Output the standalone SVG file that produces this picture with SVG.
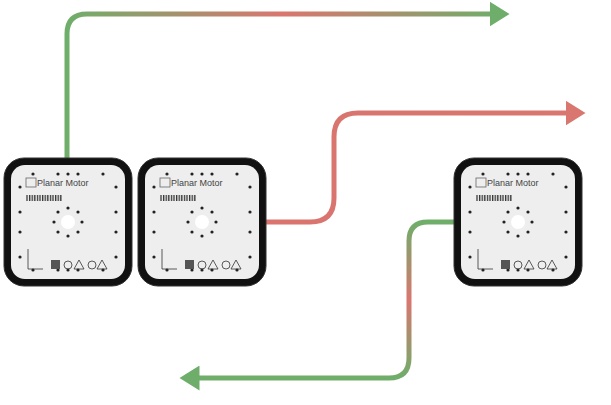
<svg xmlns="http://www.w3.org/2000/svg" width="611" height="405" viewBox="0 0 611 405">
<style>
.outer{fill:#111;stroke:#333;stroke-width:1}
.inner{fill:#eeeeee}
.dot{fill:#222}
.lbl{font-family:"Liberation Sans",Arial,sans-serif;font-size:9px;fill:#444}
.conn{fill:none;stroke-width:5;stroke-linecap:butt;stroke-linejoin:round}
.ico{fill:none;stroke:#333;stroke-width:0.8}
</style>
<defs>
<linearGradient id="g1" gradientUnits="userSpaceOnUse" x1="67" y1="0" x2="500" y2="0">
<stop offset="0" stop-color="#6fae6a"/><stop offset="0.5" stop-color="#d9766f"/><stop offset="1" stop-color="#6fae6a"/></linearGradient>
<linearGradient id="g2" gradientUnits="userSpaceOnUse" x1="266" y1="0" x2="585" y2="0">
<stop offset="0" stop-color="#d9746f"/><stop offset="1" stop-color="#d9766f"/></linearGradient>
<linearGradient id="g3" gradientUnits="userSpaceOnUse" x1="0" y1="222" x2="0" y2="378">
<stop offset="0" stop-color="#6fae6a"/><stop offset="0.5" stop-color="#d9766f"/><stop offset="1" stop-color="#6fae6a"/></linearGradient>
<pattern id="bar" width="2.6" height="8" patternUnits="userSpaceOnUse"><rect width="1.3" height="8" fill="#333"/></pattern>
<symbol id="mod" viewBox="0 0 130 130" width="130" height="130">
<rect class="outer" x="1" y="1" width="128" height="128" rx="20"/>
<rect class="inner" x="8" y="8" width="114" height="114" rx="14"/>
<g class="dot">
<circle cx="30" cy="17" r="1.6"/><circle cx="55" cy="17" r="1.6"/><circle cx="65" cy="17" r="1.6"/><circle cx="75" cy="17" r="1.6"/><circle cx="100" cy="17" r="1.6"/>
<circle cx="30" cy="113" r="1.6"/><circle cx="55" cy="113" r="1.6"/><circle cx="65" cy="113" r="1.6"/><circle cx="75" cy="113" r="1.6"/><circle cx="100" cy="113" r="1.6"/>
<circle cx="17" cy="30" r="1.6"/><circle cx="17" cy="55" r="1.6"/><circle cx="17" cy="75" r="1.6"/><circle cx="17" cy="100" r="1.6"/>
<circle cx="113" cy="30" r="1.6"/><circle cx="113" cy="55" r="1.6"/><circle cx="113" cy="75" r="1.6"/><circle cx="113" cy="100" r="1.6"/>
<circle cx="65" cy="51" r="1.6"/><circle cx="65" cy="79" r="1.6"/><circle cx="51" cy="65" r="1.6"/><circle cx="79" cy="65" r="1.6"/>
<circle cx="55" cy="55" r="1.6"/><circle cx="75" cy="55" r="1.6"/><circle cx="55" cy="75" r="1.6"/><circle cx="75" cy="75" r="1.6"/>
</g>
<circle cx="65" cy="65" r="7" fill="#fff"/>
<rect x="23" y="21" width="10" height="9" fill="none" stroke="#666" stroke-width="0.8"/>
<text class="lbl" x="34" y="29">Planar Motor</text>
<rect x="23" y="38" width="36" height="6" fill="url(#bar)"/>
<path class="ico" d="M25 92 V112 H40"/>
<rect x="48" y="103" width="9" height="9" fill="#555"/>
<circle class="ico" cx="65" cy="108" r="4"/><path class="ico" d="M71 112 L76 103 L81 112Z"/><circle class="ico" cx="89" cy="108" r="4"/><path class="ico" d="M94 112 L99 103 L104 112Z"/>
</symbol>
<marker id="ah1" markerWidth="5" markerHeight="5" refX="0.5" refY="2.5" orient="auto" markerUnits="strokeWidth"><path d="M0,0 L4,2.5 L0,5Z" fill="#6fae6a"/></marker>
<marker id="ah2" markerWidth="5" markerHeight="5" refX="0.5" refY="2.5" orient="auto" markerUnits="strokeWidth"><path d="M0,0 L4,2.5 L0,5Z" fill="#d9766f"/></marker>
<marker id="ah3" markerWidth="5" markerHeight="5" refX="0.5" refY="2.5" orient="auto" markerUnits="strokeWidth"><path d="M0,0 L4,2.5 L0,5Z" fill="#6fae6a"/></marker>
</defs>
<g id="connectors">
<path class="conn" stroke="url(#g1)" d="M67 158 V34 Q67 14 87 14 H492" marker-end="url(#ah1)"/>
<path class="conn" stroke="url(#g2)" d="M266 222 H310 Q334 222 334 198 V137 Q334 113 358 113 H568" marker-end="url(#ah2)"/>
<path class="conn" stroke="url(#g3)" d="M455 222 H428 Q409 222 409 241 V358 Q409 378 389 378 H197" marker-end="url(#ah3)"/>
</g>
<g id="module1"><use href="#mod" x="3" y="157"/></g>
<g id="module2"><use href="#mod" x="137" y="157"/></g>
<g id="module3"><use href="#mod" x="453" y="157"/></g>
</svg>
